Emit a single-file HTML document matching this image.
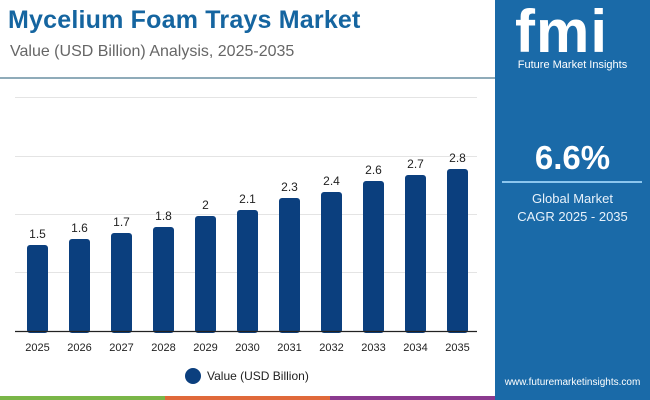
<!DOCTYPE html>
<html><head><style>
body{margin:0;width:650px;height:400px;overflow:hidden;background:#fff;font-family:"Liberation Sans",sans-serif;position:relative}
.t{position:absolute;left:8px;top:6px;font-size:25px;font-weight:bold;color:#1565a0;letter-spacing:0.2px}
.s{position:absolute;left:10px;top:43px;font-size:16px;color:#666}
.sep{position:absolute;left:0;top:77px;width:495px;height:2px;background:#8fabb9}
.rp{position:absolute;left:495px;top:0;width:155px;height:400px;background:#1a6aa8}
.bb{position:absolute;top:396px;height:4px}
</style></head><body>
<div class="t">Mycelium Foam Trays Market</div>
<div class="s">Value (USD Billion) Analysis, 2025-2035</div>
<div class="sep"></div>
<svg width="495" height="400" style="position:absolute;left:0;top:0" font-family="Liberation Sans,sans-serif">
<g stroke="#e4e4e4" stroke-width="1">
<line x1="15" x2="477" y1="97.5" y2="97.5"/><line x1="15" x2="477" y1="156.5" y2="156.5"/><line x1="15" x2="477" y1="214.5" y2="214.5"/><line x1="15" x2="477" y1="272.5" y2="272.5"/>
</g>
<g fill="#0b3f7e">
<rect x="27" y="245" width="21" height="88" rx="3"/>
<rect x="69" y="239" width="21" height="94" rx="3"/>
<rect x="111" y="233" width="21" height="100" rx="3"/>
<rect x="153" y="227" width="21" height="106" rx="3"/>
<rect x="195" y="216" width="21" height="117" rx="3"/>
<rect x="237" y="210" width="21" height="123" rx="3"/>
<rect x="279" y="198" width="21" height="135" rx="3"/>
<rect x="321" y="192" width="21" height="141" rx="3"/>
<rect x="363" y="181" width="21" height="152" rx="3"/>
<rect x="405" y="175" width="21" height="158" rx="3"/>
<rect x="447" y="169" width="21" height="164" rx="3"/>
</g>
<line x1="15" x2="477" y1="331.5" y2="331.5" stroke="#222" stroke-width="1.2"/>
<g font-size="12" fill="#222" text-anchor="middle">
<text x="37.5" y="238">1.5</text><text x="79.5" y="232">1.6</text><text x="121.5" y="226">1.7</text><text x="163.5" y="220">1.8</text><text x="205.5" y="209">2</text><text x="247.5" y="203">2.1</text><text x="289.5" y="191">2.3</text><text x="331.5" y="185">2.4</text><text x="373.5" y="174">2.6</text><text x="415.5" y="168">2.7</text><text x="457.5" y="162">2.8</text>
</g>
<g font-size="11" fill="#222" text-anchor="middle">
<text x="37.5" y="351">2025</text><text x="79.5" y="351">2026</text><text x="121.5" y="351">2027</text><text x="163.5" y="351">2028</text><text x="205.5" y="351">2029</text><text x="247.5" y="351">2030</text><text x="289.5" y="351">2031</text><text x="331.5" y="351">2032</text><text x="373.5" y="351">2033</text><text x="415.5" y="351">2034</text><text x="457.5" y="351">2035</text>
</g>
<circle cx="193" cy="376" r="8" fill="#0b3f7e"/>
<text x="207" y="380" font-size="12" fill="#222">Value (USD Billion)</text>
</svg>
<div class="bb" style="left:0;width:165px;background:#7ab648"></div>
<div class="bb" style="left:165px;width:165px;background:#e0693a"></div>
<div class="bb" style="left:330px;width:165px;background:#8b3a8f"></div>
<div class="rp">
<div style="position:absolute;left:20px;top:4px;font-size:60px;font-weight:bold;color:#fff;letter-spacing:1px;line-height:56px">fmi</div>
<div style="position:absolute;left:0;width:155px;top:59px;text-align:center;color:#fff;font-size:11px">Future Market Insights</div>
<div style="position:absolute;left:0;width:155px;top:139px;text-align:center;color:#fff;font-size:33px;font-weight:bold">6.6%</div>
<div style="position:absolute;left:7px;width:140px;top:181px;height:2px;background:#8cc6ee"></div>
<div style="position:absolute;left:0;width:155px;top:190px;text-align:center;color:#e8f2fb;font-size:13px;line-height:18px">Global Market<br>CAGR 2025 - 2035</div>
<div style="position:absolute;left:0;width:155px;top:377px;text-align:center;color:#fff;font-size:10px">www.futuremarketinsights.com</div>
</div>
</body></html>
